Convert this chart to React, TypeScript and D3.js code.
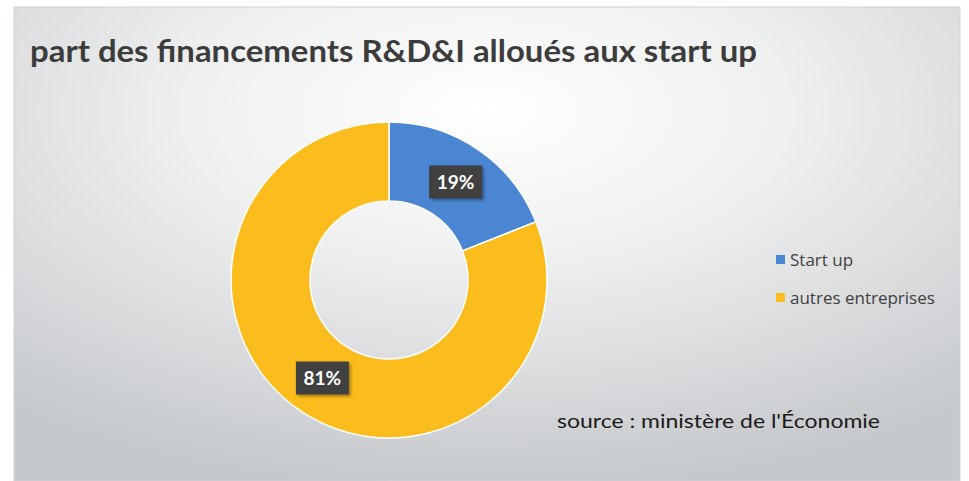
import React from "react";
import * as d3 from "d3";

const categories = ["Start up", "autres entreprises"];
const values = [19, 81];
const colors = ["#4b86d3", "#fbbd1d"];
const labels = ["19%", "81%"];

const W = 969;
const H = 481;

export default function App() {
  const cx = 389;
  const cy = 280;
  const outerR = 158;
  const innerR = 79;
  const pie = d3.pie<number>().sort(null).value((d) => d);
  const arcs = pie(values);
  const arc = d3.arc<d3.PieArcDatum<number>>().innerRadius(innerR).outerRadius(outerR);
  const labelArc = d3.arc<d3.PieArcDatum<number>>().innerRadius(innerR).outerRadius(outerR);

  return (
    <svg width={W} height={H} style={{ position: "absolute", left: 0, top: 0 }}>
      <defs>
        <radialGradient id="bg" cx="0.5" cy="0.22" r="0.8">
          <stop offset="0" stopColor="#ffffff" />
          <stop offset="0.4" stopColor="#eeefef" />
          <stop offset="1" stopColor="#c5c8cc" />
        </radialGradient>
        <filter id="sh" x="-20%" y="-20%" width="150%" height="150%">
          <feDropShadow dx="2" dy="2" stdDeviation="1.5" floodColor="#000" floodOpacity="0.35" />
        </filter>
      </defs>
      <rect x={0} y={0} width={W} height={H} fill="#ffffff" />
      <rect x={14} y={7} width={946} height={474} fill="url(#bg)" stroke="#d0d2d4" strokeWidth={1} />
      <text
        x={30}
        y={62}
        fontFamily="Lato, 'Open Sans', sans-serif"
        fontWeight="bold"
        fontSize={30}
        fill="#3c3c3c"
        textLength={727}
        lengthAdjust="spacingAndGlyphs"
      >
        part des financements R&amp;D&amp;I alloués aux start up
      </text>
      <g transform={`translate(${cx},${cy})`}>
        {arcs.map((a, i) => (
          <path key={i} d={arc(a) || ""} fill={colors[i]} stroke="#ffffff" strokeWidth={1.5} />
        ))}
        {arcs.map((a, i) => {
          const [lx, ly] = labelArc.centroid(a);
          const bw = 53;
          const bh = 33;
          return (
            <g key={"l" + i} transform={`translate(${lx},${ly})`}>
              <rect x={-bw / 2} y={-bh / 2} width={bw} height={bh} fill="#404040" filter="url(#sh)" />
              <text
                x={0}
                y={7}
                textAnchor="middle"
                fontFamily="Lato, 'Open Sans', sans-serif"
                fontWeight="bold"
                fontSize={19}
                fill="#ffffff"
              >
                {labels[i]}
              </text>
            </g>
          );
        })}
      </g>
      {categories.map((c, i) => (
        <g key={c} transform={`translate(776,${255 + i * 38})`}>
          <rect x={0} y={0} width={9} height={9} fill={colors[i]} />
          <text
            x={14}
            y={11}
            fontFamily="'Open Sans', Lato, sans-serif"
            fontSize={17}
            fill="#404040"
          >
            {c}
          </text>
        </g>
      ))}
      <text
        x={557}
        y={428}
        fontFamily="Lato, 'Open Sans', sans-serif"
        fontSize={20}
        fill="#1a1a1a"
        textLength={323}
        lengthAdjust="spacingAndGlyphs"
      >
        source : ministère de l'Économie
      </text>
    </svg>
  );
}
